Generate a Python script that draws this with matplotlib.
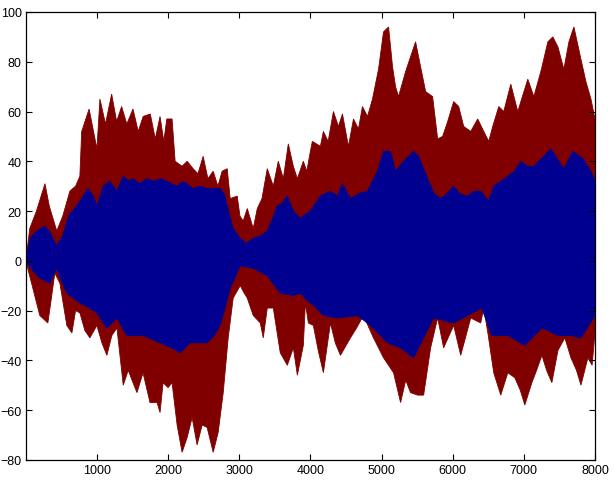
import numpy as np
import matplotlib
matplotlib.use('Agg')
import matplotlib.pyplot as plt

# envelope readings (sample index, amplitude)
red_top_x = [0, 56, 150, 270, 330, 435, 520, 620, 700, 760, 786, 890, 1000, 1042, 1120, 1207, 1277,
             1347, 1420, 1507, 1580, 1650, 1750, 1820, 1887, 1940, 1982, 2056, 2099, 2197, 2268, 2352,
             2420, 2493, 2560, 2634, 2700, 2760, 2831, 2873, 2972, 3010, 3056, 3113, 3197, 3254, 3320,
             3394, 3479, 3549, 3620, 3690, 3760, 3817, 3901, 3950, 4000, 4028, 4141, 4183, 4250, 4324,
             4394, 4451, 4535, 4606, 4676, 4732, 4803, 4873, 4958, 5028, 5099, 5155, 5197, 5239, 5338,
             5408, 5479, 5549, 5620, 5718, 5789, 5859, 5930, 6014, 6085, 6155, 6254, 6352, 6437, 6507,
             6563, 6648, 6718, 6817, 6915, 7056, 7141, 7239, 7338, 7408, 7479, 7563, 7634, 7704, 7803,
             7873, 7944, 8000]
red_top = [0, 13, 20, 31, 22, 12, 18, 28, 30, 34, 52, 61, 45, 65, 55, 67, 56,
           62, 55, 61, 52, 58, 59, 49, 58, 48, 57, 57, 40, 38, 40, 37,
           35, 42, 33, 36, 30, 36, 37, 25, 26, 18, 16, 21, 13, 21, 25,
           37, 30, 40, 33, 47, 38, 33, 40, 36, 44, 48, 46, 52, 48, 60,
           54, 59, 46, 57, 53, 62, 58, 65, 77, 92, 94, 78, 70, 66, 76,
           82, 88, 78, 68, 66, 49, 50, 56, 64, 62, 54, 52, 57, 52, 48,
           54, 62, 60, 71, 60, 73, 66, 76, 88, 90, 86, 77, 88, 94, 81,
           72, 65, 57]

red_bot_x = [0, 99, 197, 310, 360, 408, 479, 577, 648, 700, 761, 830, 901, 999, 1070, 1140, 1210,
             1281, 1370, 1440, 1507, 1563, 1648, 1746, 1845, 1887, 1930, 2000, 2056, 2127, 2197, 2268,
             2338, 2408, 2479, 2549, 2634, 2704, 2775, 2845, 2915, 3014, 3070, 3113, 3197, 3296, 3338,
             3394, 3479, 3577, 3676, 3761, 3817, 3901, 3930, 3972, 4042, 4110, 4183, 4282, 4350, 4423,
             4563, 4650, 4746, 4887, 5028, 5169, 5268, 5340, 5408, 5507, 5592, 5690, 5789, 5873, 6014,
             6113, 6254, 6394, 6437, 6500, 6577, 6676, 6775, 6873, 6950, 7014, 7113, 7180, 7254, 7320,
             7394, 7480, 7577, 7662, 7740, 7803, 7901, 7960, 8000]
red_bot = [0, -11, -22, -25, -15, -5, -9, -26, -29, -20, -21, -28, -31, -26, -33, -38, -30,
           -27, -50, -44, -49, -53, -45, -57, -57, -61, -49, -51, -49, -66, -77, -71,
           -63, -74, -66, -67, -77, -69, -53, -31, -15, -10, -13, -15, -22, -25, -31,
           -19, -19, -37, -42, -35, -46, -34, -17, -25, -26, -36, -45, -25, -33, -38,
           -31, -27, -22, -31, -39, -45, -57, -48, -53, -54, -54, -35, -23, -35, -26,
           -38, -23, -25, -19, -30, -45, -54, -45, -47, -52, -58, -49, -44, -38, -44,
           -49, -36, -31, -39, -44, -50, -39, -42, -29]

blue_top_x = [0, 60, 155, 268, 350, 430, 520, 600, 714, 786, 875, 950, 1000, 1088, 1183, 1277, 1370,
              1450, 1507, 1600, 1700, 1800, 1900, 1985, 2050, 2127, 2211, 2352, 2450, 2550, 2650, 2732,
              2790, 2831, 2915, 3014, 3100, 3197, 3300, 3394, 3470, 3535, 3600, 3676, 3761, 3859, 3901,
              4000, 4070, 4141, 4282, 4380, 4451, 4563, 4680, 4803, 4944, 5028, 5127, 5197, 5310, 5451,
              5521, 5648, 5740, 5831, 5920, 6014, 6100, 6211, 6300, 6394, 6507, 6577, 6680, 6775, 6870,
              6958, 7050, 7141, 7282, 7380, 7470, 7563, 7690, 7831, 7944, 8000]
blue_top = [0, 9, 12, 14, 11, 6, 10, 18, 22, 25, 29, 26, 22, 30, 32, 28, 34,
            32, 33, 31, 33, 32, 33, 32, 31, 30, 32, 29, 30, 29, 29, 29,
            27, 22, 13, 9, 7, 9, 10, 12, 17, 22, 23, 26, 20, 17, 18,
            20, 23, 26, 28, 26, 31, 25, 27, 28, 36, 44, 44, 36, 40, 44,
            42, 33, 27, 25, 27, 30, 27, 26, 28, 28, 24, 30, 32, 34, 36,
            40, 38, 38, 42, 45, 41, 37, 44, 41, 36, 32]

blue_bot_x = [0, 100, 197, 338, 437, 500, 577, 761, 900, 999, 1140, 1281, 1418, 1648, 1887, 2050,
              2169, 2310, 2549, 2650, 2732, 2800, 2873, 3014, 3197, 3394, 3577, 3761, 3859, 3958, 4050,
              4183, 4380, 4662, 4845, 5085, 5268, 5451, 5592, 5732, 6014, 6211, 6408, 6549, 6775, 7014,
              7254, 7479, 7648, 7803, 8000]
blue_bot = [0, -4, -7, -9, -3, -8, -13, -17, -19, -21, -27, -23, -30, -30, -33, -35,
            -37, -33, -33, -30, -26, -19, -11, -2, -3, -6, -13, -14, -13, -16, -18,
            -22, -23, -22, -26, -33, -35, -39, -31, -23, -25, -22, -19, -30, -30, -34,
            -27, -30, -30, -31, -22]

x_ticks = [1000, 2000, 3000, 4000, 5000, 6000, 7000, 8000]
y_ticks = [-80, -60, -40, -20, 0, 20, 40, 60, 80, 100]

red = '#800000'
blue = '#000090'

plt.rcParams['font.family'] = ['Liberation Sans', 'DejaVu Sans']
fig = plt.figure(figsize=(6.14, 4.81), dpi=100)
ax = fig.add_axes([0.042, 0.042, 0.927, 0.931])

# outer (red) band, then inner (blue) band on top
ax.fill(np.r_[red_top_x, red_bot_x[::-1]], np.r_[red_top, red_bot[::-1]],
        facecolor=red, edgecolor=red, linewidth=0.6)
ax.fill(np.r_[blue_top_x, blue_bot_x[::-1]], np.r_[blue_top, blue_bot[::-1]],
        facecolor=blue, edgecolor=blue, linewidth=0.6)

ax.set_xlim(0, 8000)
ax.set_ylim(-80, 100)
ax.set_xticks(x_ticks)
ax.set_yticks(y_ticks)
ax.tick_params(direction='in', top=True, right=True, length=4, labelsize=9, width=0.8, pad=3)
for s in ax.spines.values():
    s.set_linewidth(0.9)

fig.savefig('out.png', dpi=100)
